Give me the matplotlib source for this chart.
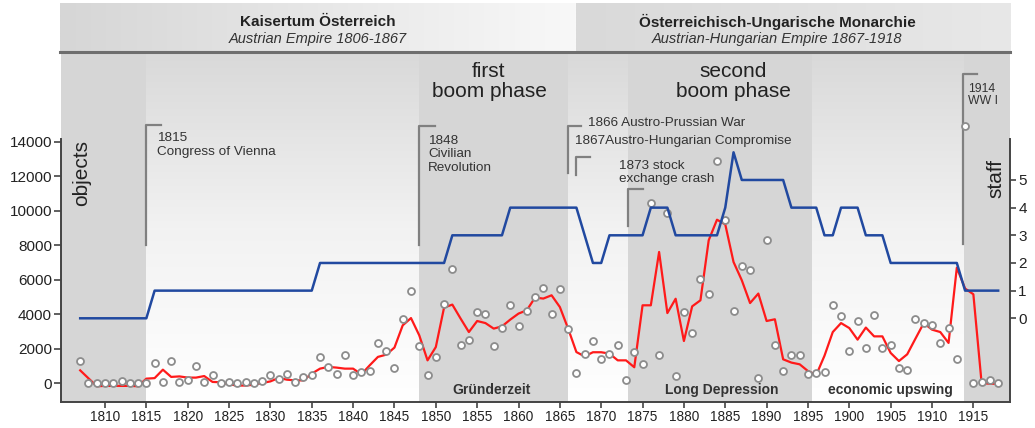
import numpy as np
import matplotlib
matplotlib.use("Agg")
import matplotlib.pyplot as plt
from matplotlib.colors import LinearSegmentedColormap

plt.rcParams['font.family'] = ['Liberation Sans', 'DejaVu Sans']

years = list(range(1807, 1919))

# yearly number of objects (circles)
objects = [1300, 0, 0, 0, 0, 130, 0, 0, 0, 1200,
           80, 1310, 80, 210, 1000, 80, 500, 0, 80, 0,
           80, 0, 110, 460, 270, 560, 80, 350, 460, 1550,
           930, 560, 1620, 460, 660, 710, 2360, 1850, 890, 3750,
           5350, 2160, 480, 1530, 4620, 6610, 2200, 2490, 4130, 4040,
           2160, 3200, 4560, 3300, 4190, 5000, 5520, 4000, 5450, 3170,
           620, 1720, 2450, 1390, 1680, 2240, 190, 1800, 1140, 10450,
           1660, 9870, 430, 4110, 2930, 6060, 5180, 12860, 9440, 4210,
           6780, 6550, 290, 8290, 2200, 710, 1620, 1620, 520, 580,
           660, 4540, 3880, 1870, 3590, 2070, 3980, 2050, 2200, 890,
           790, 3750, 3490, 3400, 2360, 3230, 1390, 14890, 20, 80,
           170, 40]

# smoothed objects (red line)
objects_avg = [750, 290, -170, -150, -150, -150, -150, -170, 270, 300,
               790, 370, 400, 330, 330, 420, 80, 60, -60, -130,
               -130, -80, 20, 110, 310, 210, 170, 170, 560, 850,
               950, 910, 850, 850, 520, 1040, 1530, 1660, 2070, 3360,
               3780, 2780, 1330, 2100, 4390, 4560, 3750, 2970, 3610, 3490,
               3170, 3300, 3690, 4040, 4230, 4970, 4910, 5100, 4420, 3170,
               1810, 1560, 1800, 1800, 1720, 1330, 1330, 930, 4520, 4520,
               7610, 4070, 4900, 2450, 4460, 4810, 8290, 9480, 9210, 7030,
               5970, 4650, 5200, 3610, 3710, 1390, 1200, 1100, 710, 480,
               1600, 2970, 3490, 3200, 2530, 3230, 2720, 2720, 1760, 1290,
               1680, 2590, 3490, 3110, 2970, 2340, 6700, 5490, 5160, 0,
               -20, -30]

# staff per year (blue line)
staff = [0] * 9 + [1] * 20 + [2] * 16 + [3] * 7 + [4] * 9 + [3, 2, 2] + [3] * 5 \
    + [4] * 3 + [3] * 6 + [4, 6] + [5] * 6 + [4] * 4 + [3, 3] + [4] * 3 \
    + [3] * 3 + [2] * 9 + [1] * 5

x_ticks = list(range(1810, 1920, 5))
obj_ticks = list(range(0, 14001, 2000))
staff_ticks = [0, 1, 2, 3, 4, 5]

xmin, xmax = 1804.68, 1919.43
dark_periods = [(xmin, 1815), (1848, 1866), (1873.3, 1895.5), (1913.9, xmax)]

fig = plt.figure(figsize=(10.35, 4.28), dpi=100)

# ---- main axes ----
ax = fig.add_axes([61 / 1035, 26.3 / 428, 949 / 1035, 348.7 / 428])
ylo, yhi = -1066, 19140
grad = np.linspace(0, 1, 256).reshape(-1, 1)
cmap_bg = LinearSegmentedColormap.from_list('bg', ['#ffffff', '#f2f2f2', '#d9d9d9'])
ax.imshow(grad, extent=(xmin, xmax, ylo, yhi), origin='lower', aspect='auto',
          cmap=cmap_bg, zorder=0)
for a, b in dark_periods:
    ax.axvspan(a, b, color='#d6d6d6', lw=0, zorder=0.5)

ax.plot(years, objects_avg, color='#ff1a1a', lw=1.6, zorder=3)
ax.plot(years, objects, ls='none', marker='o', ms=5, mfc='white',
        mec='#8c8c8c', mew=1.3, zorder=4, clip_on=False)

ax.set_xlim(xmin, xmax)
ax.set_ylim(ylo, yhi)
ax.set_xticks(x_ticks)
ax.set_yticks(obj_ticks)
for s in ['top', 'right']:
    ax.spines[s].set_visible(False)
for s in ['left', 'bottom']:
    ax.spines[s].set_color('#444444')
    ax.spines[s].set_linewidth(1.4)
ax.spines['left'].set_bounds(ylo, 14150)
ax.tick_params(axis='x', direction='out', length=4, width=1.2, color='#444444',
               labelsize=9.8, pad=2, labelcolor='#222222')
ax.tick_params(axis='y', direction='out', length=5, width=1.2, color='#444444',
               labelsize=11, pad=1.5, labelcolor='#222222')

# ---- staff axis ----
ax2 = ax.twinx()
ax2.plot(years, staff, color='#2149a0', lw=1.8, zorder=3)
ax2.set_ylim(-3.015, 9.59)
ax2.set_yticks(staff_ticks)
for s in ['top', 'left', 'bottom']:
    ax2.spines[s].set_visible(False)
ax2.spines['right'].set_color('#444444')
ax2.spines['right'].set_linewidth(1.4)
ax2.spines['right'].set_bounds(-3.015, 6.47)
ax2.tick_params(axis='y', direction='out', length=4, width=1.2, color='#444444',
                labelsize=11, pad=2, labelcolor='#222222')

# axis titles inside the plot
ax.text(1807.13, 12160, 'objects', rotation=90, ha='center', va='center',
        fontsize=15, color='#222222', zorder=5)
ax.text(1917.7, 11840, 'staff', rotation=90, ha='center', va='center',
        fontsize=15, color='#222222', zorder=5)

# boom phases
ax.text(1856.43, 17489, 'first\nboom phase', ha='center', va='center',
        fontsize=15, linespacing=1.1, color='#222222')
ax.text(1885.94, 17489, 'second\nboom phase', ha='center', va='center',
        fontsize=15, linespacing=1.1, color='#222222')

# period labels at the bottom
for xc, label in [(1856.8, 'Gründerzeit'), (1884.6, 'Long Depression'),
                  (1905.0, 'economic upswing')]:
    ax.text(xc, -385, label, ha='center', va='center', fontsize=10,
            fontweight='bold', color='#333333')

# events with brackets
brk = dict(color='#808080', lw=1.6, zorder=2, clip_on=False)
for xv, y0, y1, xh in [(1815, 8000, 14970, 1816.8), (1848, 8000, 14910, 1849.9),
                       (1866, 12200, 14910, 1867.6), (1867, 12070, 13130, 1868.7),
                       (1873.3, 9115, 11240, 1875.0), (1913.8, 8070, 17920, 1915.4)]:
    ax.plot([xv, xv, xh], [y0, y1, y1], **brk)

ev = dict(ha='left', va='center', fontsize=9.7, color='#333333', zorder=5)
ax.text(1816.3, 13790, '1815\nCongress of Vienna', **ev)
ax.text(1849.06, 13260, '1848\nCivilian\nRevolution', linespacing=1.15, **ev)
ax.text(1868.4, 15066, '1866 Austro-Prussian War', **ev)
ax.text(1866.83, 14058, '1867Austro-Hungarian Compromise', **ev)
ax.text(1872.15, 12233, '1873 stock\nexchange crash', linespacing=1.15, **ev)
ax.text(1914.4, 16706, '1914\nWW I', ha='left', va='center', fontsize=8.8,
        linespacing=1.1, color='#333333', zorder=5)

# ---- header ----
hdr = fig.add_axes([60 / 1035, (428 - 52) / 428, 950 / 1035, 49 / 428])
hdr.set_xlim(xmin, xmax)
hdr.set_ylim(0, 1)
hgrad = np.linspace(0, 1, 256).reshape(1, -1)
hdr.imshow(hgrad, extent=(xmin, 1867, 0, 1), aspect='auto',
           cmap=LinearSegmentedColormap.from_list('h1', ['#d6d6d6', '#f8f8f8']))
hdr.imshow(hgrad, extent=(1867, xmax, 0, 1), aspect='auto',
           cmap=LinearSegmentedColormap.from_list('h2', ['#d9d9d9', '#e8e8e8']))
hdr.set_xlim(xmin, xmax)
hdr.set_ylim(0, 1)
hdr.axhline(0, color='#6e6e6e', lw=2.2, clip_on=False)
hdr.axis('off')
hdr.text(1835.8, 0.62, 'Kaisertum Österreich', ha='center', va='center',
         fontsize=11, fontweight='bold', color='#222222')
hdr.text(1835.8, 0.27, 'Austrian Empire 1806-1867', ha='center', va='center',
         fontsize=10.5, style='italic', color='#333333')
hdr.text(1891.3, 0.62, 'Österreichisch-Ungarische Monarchie', ha='center', va='center',
         fontsize=11, fontweight='bold', color='#222222')
hdr.text(1891.3, 0.27, 'Austrian-Hungarian Empire 1867-1918', ha='center', va='center',
         fontsize=10.5, style='italic', color='#333333')

fig.savefig('out.png', dpi=100)
